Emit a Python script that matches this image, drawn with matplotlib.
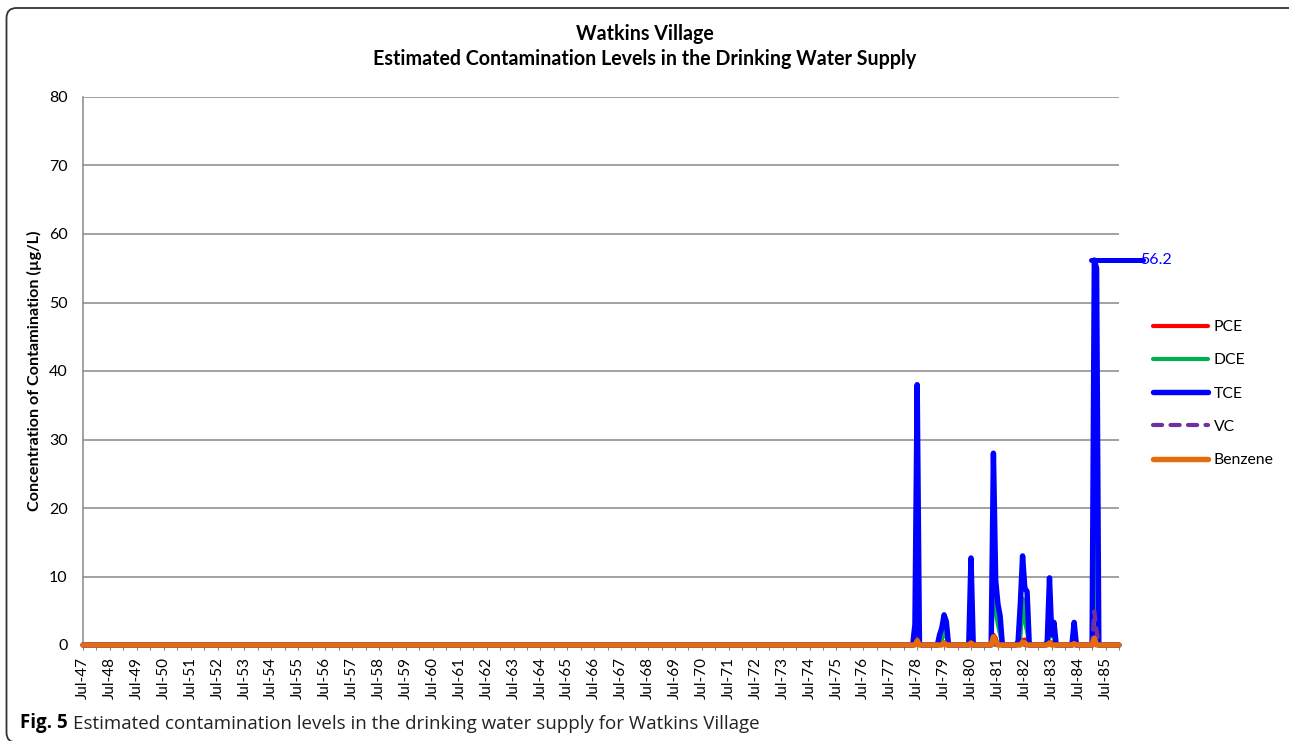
import numpy as np
import pandas as pd
import matplotlib
matplotlib.use('Agg')
import matplotlib.pyplot as plt
from matplotlib.patches import FancyBboxPatch

plt.rcParams['font.family'] = ['Lato', 'DejaVu Sans']

# ---------------- data ----------------
months = pd.date_range('1947-07-01', '1986-01-01', freq='MS')
series_names = ['PCE', 'DCE', 'TCE', 'VC', 'Benzene']
# every series is flat at zero before Jan-1978
level_before_1978 = 0.0

# monthly values, Jan-78 .. Jan-86 (µg/L)
pce_1978_on = [
    0, 0, 0, 0, 0, 0, 0.3, 0, 0, 0, 0, 0,          # 1978
    0, 0, 0, 0, 0, 0, 0.4, 0, 0, 0, 0, 0,          # 1979
    0, 0, 0, 0, 0, 0, 0, 0, 0, 0, 0, 0,            # 1980
    0, 0, 0, 0, 1.5, 1.0, 0, 0, 0, 0, 0, 0,        # 1981
    0, 0, 0, 0, 0, 0.7, 0.8, 0.4, 0, 0, 0, 0,      # 1982
    0, 0, 0, 0, 0, 0.3, 0.4, 0, 0, 0, 0, 0,        # 1983
    0, 0, 0, 0, 0, 0, 0, 0, 0, 0, 0, 0,            # 1984
    0, 2.5, 1.0, 0, 0, 0, 0, 0, 0, 0, 0, 0,        # 1985
    0]                                             # Jan-86
dce_1978_on = [
    0, 0, 0, 0, 0, 0.5, 3.5, 0.2, 0, 0, 0, 0,
    0, 0, 0, 0, 0, 0.8, 2.0, 1.2, 0, 0, 0, 0,
    0, 0, 0, 0, 0, 0, 0.5, 0, 0, 0, 0, 0,
    0, 0, 0, 0, 9.0, 5.0, 3.0, 1.5, 0, 0, 0, 0,
    0, 0, 0, 0, 1.0, 6.8, 3.5, 2.0, 0, 0, 0, 0,
    0, 0, 0, 0, 0, 1.3, 1.5, 1.0, 0, 0, 0, 0,
    0, 0, 0, 0, 0.3, 0, 0, 0, 0, 0, 0, 0,
    0, 21.0, 3.0, 0, 0, 0, 0, 0, 0, 0, 0, 0,
    0]
tce_1978_on = [
    0, 0, 0, 0, 0, 3.0, 38.0, 0.3, 0, 0, 0, 0,
    0, 0, 0, 0, 1.5, 2.5, 4.4, 3.4, 0, 0, 0, 0,
    0, 0, 0, 0, 0, 0, 12.7, 0, 0, 0, 0, 0,
    0, 0, 0, 0, 28.0, 9.5, 6.0, 4.2, 0, 0, 0, 0,
    0, 0, 0, 0.5, 6.0, 13.0, 8.3, 7.8, 0, 0, 0, 0,
    0, 0, 0, 0, 0.5, 9.8, 1.5, 3.3, 0, 0, 0, 0,
    0, 0, 0, 0, 3.3, 0, 0, 0, 0, 0, 0, 0,
    0, 56.2, 55.0, 0, 0, 0, 0, 0, 0, 0, 0, 0,
    0]
vc_1978_on = [
    0, 0, 0, 0, 0, 0, 1.0, 0, 0, 0, 0, 0,
    0, 0, 0, 0, 0, 0, 0, 0, 0, 0, 0, 0,
    0, 0, 0, 0, 0, 0, 0, 0, 0, 0, 0, 0,
    0, 0, 0, 0, 1.3, 0, 0, 0, 0, 0, 0, 0,
    0, 0, 0, 0, 0, 0.3, 0, 0, 0, 0, 0, 0,
    0, 0, 0, 0, 0, 0, 0, 0, 0, 0, 0, 0,
    0, 0, 0, 0, 0, 0, 0, 0, 0, 0, 0, 0,
    0, 4.9, 2.2, 0, 0, 0, 0, 0, 0, 0, 0, 0,
    0]
benzene_1978_on = [
    0, 0, 0, 0, 0, 0, 0.6, 0, 0, 0, 0, 0,
    0, 0, 0, 0, 0, 0, 0.3, 0, 0, 0, 0, 0,
    0, 0, 0, 0, 0, 0, 0.3, 0, 0, 0, 0, 0,
    0, 0, 0, 0, 1.2, 0.5, 0, 0, 0, 0, 0, 0,
    0, 0, 0, 0, 0, 0.4, 0.3, 0, 0, 0, 0, 0,
    0, 0, 0, 0, 0, 0.3, 0, 0, 0, 0, 0, 0,
    0, 0, 0, 0, 0.2, 0, 0, 0, 0, 0, 0, 0,
    0, 1.0, 0, 0, 0, 0, 0, 0, 0, 0, 0, 0,
    0]

title_lines = ['Watkins Village',
               'Estimated Contamination Levels in the Drinking Water Supply']
y_label = 'Concentration of Contamination (µg/L)'
caption_bold = 'Fig. 5'
caption_text = 'Estimated contamination levels in the drinking water supply for Watkins Village'

# ---------------- assemble ----------------
n_before = int((months < pd.Timestamp('1978-01-01')).sum())
def full(vals):
    return np.concatenate([np.full(n_before, level_before_1978), np.asarray(vals, float)])

values = {
    'PCE': full(pce_1978_on),
    'DCE': full(dce_1978_on),
    'TCE': full(tce_1978_on),
    'VC': full(vc_1978_on),
    'Benzene': full(benzene_1978_on),
}
x = np.arange(len(months))

colors = {'PCE': '#FF0000', 'DCE': '#00B050', 'TCE': '#0000FF',
          'VC': '#7030A0', 'Benzene': '#E46C0A'}
widths = {'PCE': 3.0, 'DCE': 3.0, 'TCE': 3.9, 'VC': 3.0, 'Benzene': 3.9}

# ---------------- figure ----------------
W, H = 1289, 741
fig = plt.figure(figsize=(W / 100, H / 100), dpi=100)
ax = fig.add_axes([83 / W, 1 - 645 / H, (1119 - 83) / W, (645 - 97) / H])

grid_col = '#878787'
for k, name in enumerate(series_names):
    kw = dict(color=colors[name], lw=widths[name], label=name,
              solid_capstyle='round', solid_joinstyle='round',
              clip_on=False, zorder=3 + 0.1 * k)
    if name == 'VC':
        kw.update(dashes=(2.2, 2.0), dash_capstyle='round')
    ax.plot(x, values[name], **kw)

# data label for maximum TCE
tce = values['TCE']
imax = int(np.argmax(tce))
vmax = tce[imax]
ax.plot([imax - 1.7, imax + 21.5], [vmax, vmax], color=colors['TCE'], lw=3.6,
        solid_capstyle='round', clip_on=False, zorder=5)
ax.text(imax + 20.3, vmax, f'{vmax:.1f}', color=colors['TCE'], fontsize=11.5,
        ha='left', va='center', clip_on=False, zorder=6)

ax.set_xlim(0, len(months) - 1)
ax.set_ylim(0, 80)
ax.set_yticks(np.arange(0, 81, 10))
ax.yaxis.grid(True, color=grid_col, lw=1.1)
ax.set_axisbelow(True)
ax.tick_params(axis='y', length=0, pad=11, labelsize=11.5)

major = [i for i, d in enumerate(months) if d.month == 7]
minor = [i for i, d in enumerate(months) if d.month == 1]
ax.set_xticks(major)
ax.set_xticklabels([months[i].strftime('Jul-%y') for i in major], rotation=90)
ax.set_xticks(minor, minor=True)
ax.tick_params(axis='x', which='both', direction='out', length=3.6, width=0.8,
               color=grid_col, labelsize=11, pad=5)

for s in ['top', 'right']:
    ax.spines[s].set_visible(False)
for s in ['left', 'bottom']:
    ax.spines[s].set_color(grid_col)
    ax.spines[s].set_linewidth(1.1)

ax.set_ylabel(y_label, fontsize=11.6, fontweight='bold')
ax.yaxis.set_label_coords((42 - 83) / 1036, 0.5)

leg = ax.legend(loc='upper left', bbox_to_anchor=(1153 / W, 1 - 320 / H),
                bbox_transform=fig.transFigure, frameon=False, fontsize=11.3,
                handlelength=3.5, handletextpad=0.38, labelspacing=1.23,
                borderpad=0, borderaxespad=0)

fig.suptitle('\n'.join(title_lines), x=0.5, y=1 - 24 / H, va='top',
             fontsize=14.1, fontweight='bold', linespacing=1.32)

# caption
t1 = fig.text(20 / W, 1 - 728 / H, caption_bold, fontsize=13.5, fontweight='bold',
              family=['Open Sans', 'DejaVu Sans'], va='baseline', ha='left')
ax.annotate(caption_text, xy=(1, 0), xycoords=t1, xytext=(4, 0),
            textcoords='offset points', fontsize=13.5, va='bottom', ha='left',
            color='#222222', family=['Open Sans', 'DejaVu Sans'],
            annotation_clip=False)

# frame
frame = FancyBboxPatch((6.5 / 100, -1.5 / 100), 13.0, (741 - 8 + 1.5) / 100,
                       boxstyle='round,pad=0,rounding_size=0.1',
                       transform=fig.dpi_scale_trans, fill=False,
                       edgecolor='#333333', lw=1.3, clip_on=False)
fig.add_artist(frame)

fig.savefig('out.png', dpi=100)
